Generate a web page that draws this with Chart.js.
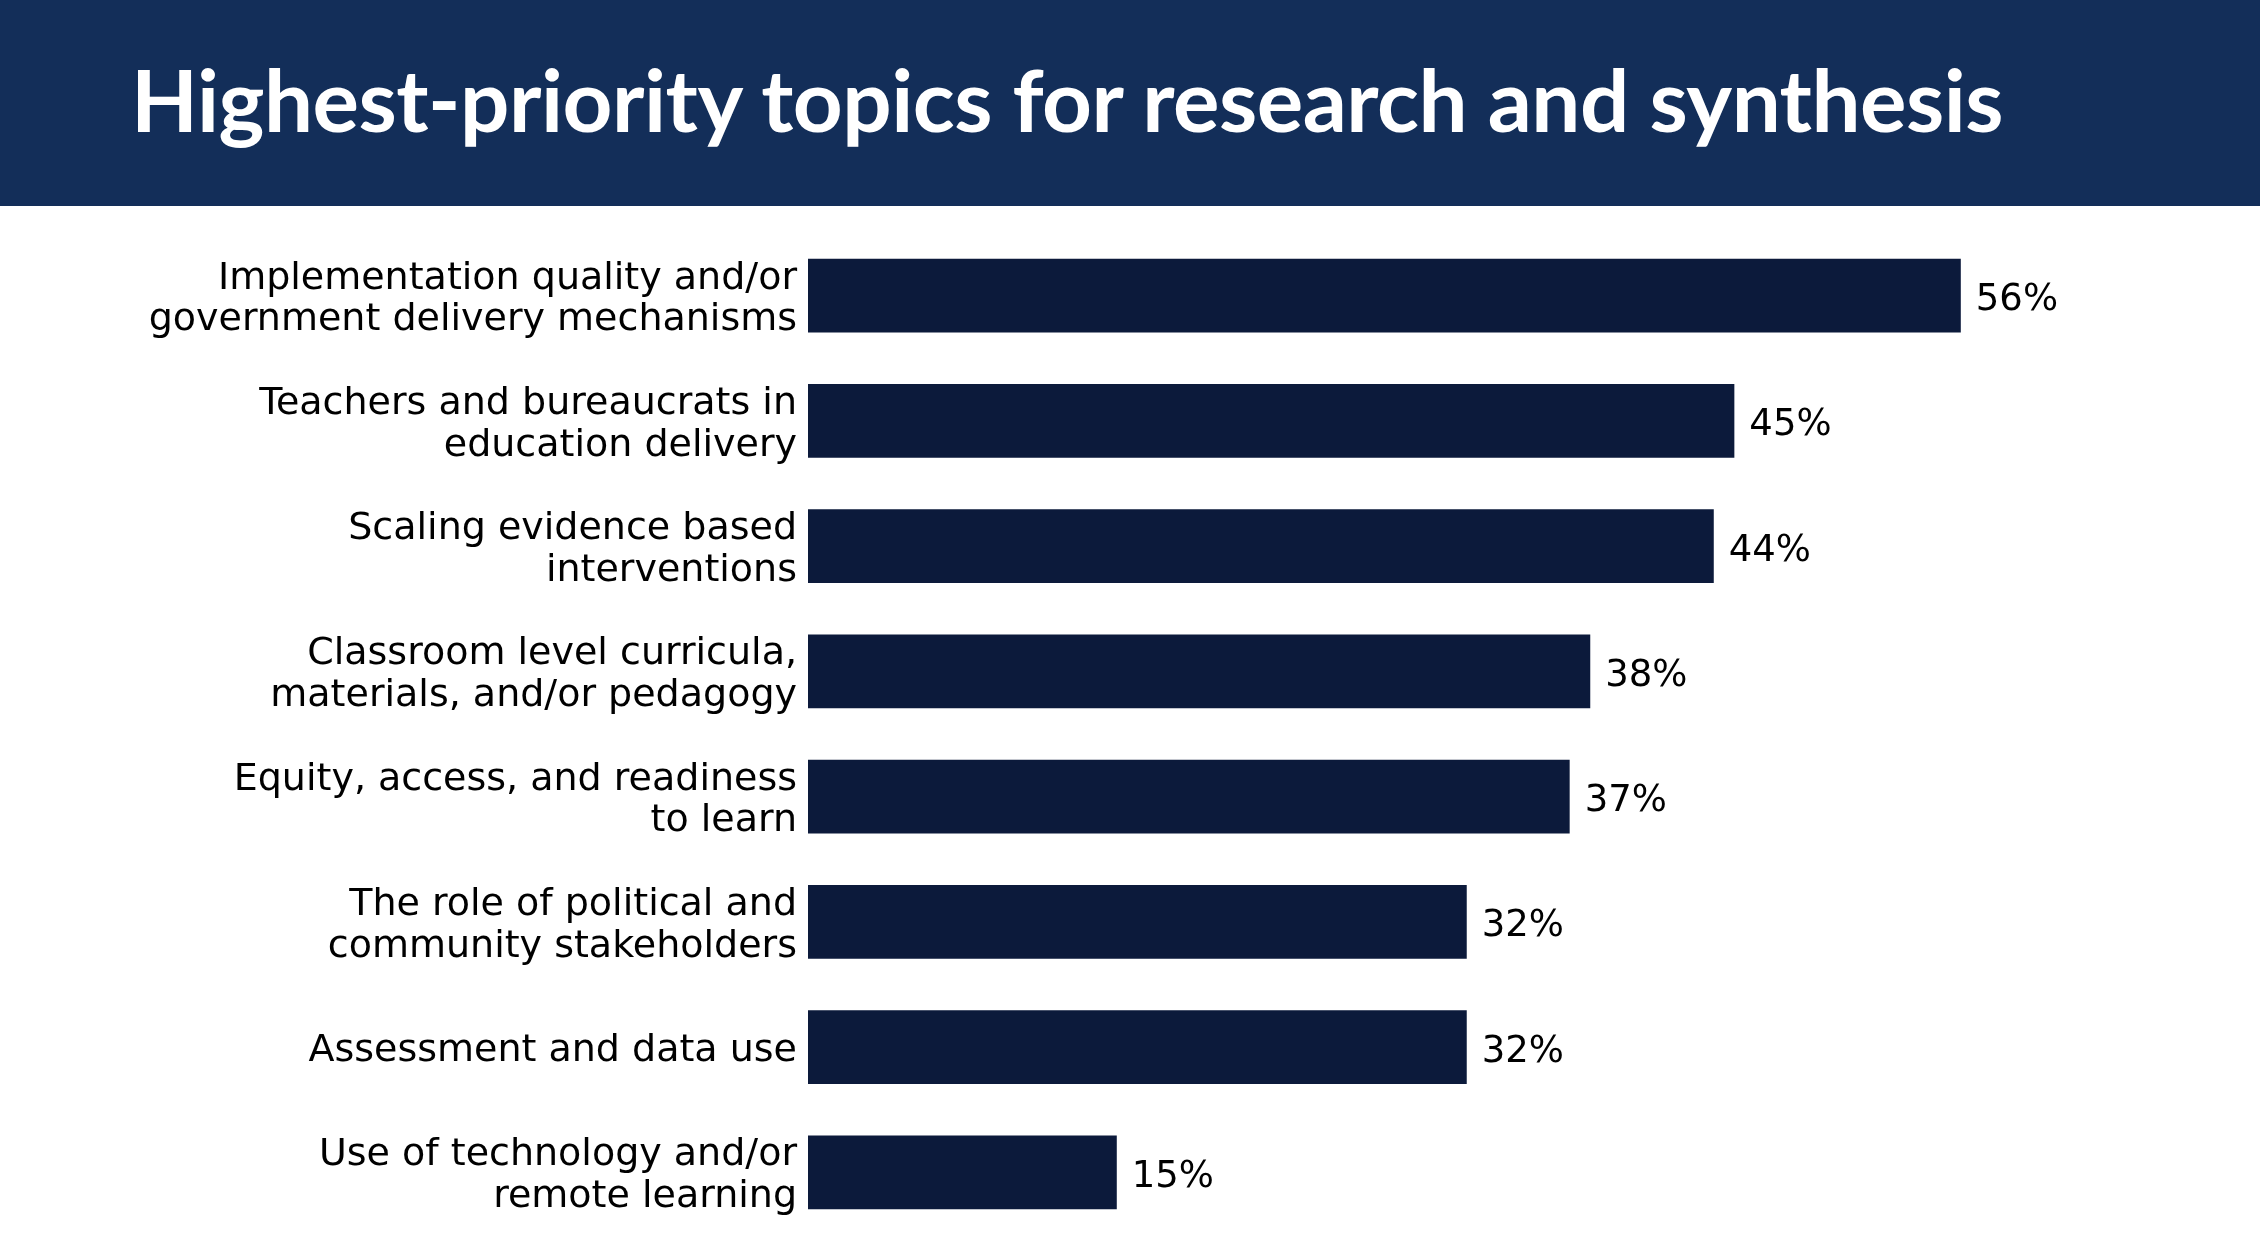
<!DOCTYPE html>
<html>
<head>
<meta charset="utf-8">
<title>Highest-priority topics for research and synthesis</title>
<script src="https://cdn.jsdelivr.net/npm/chart.js@4.4.1/dist/chart.umd.min.js"></script>
<style>
  html, body { margin: 0; padding: 0; background: #fff; }
  body { width: 2260px; height: 1247px; position: relative; overflow: hidden; }
  .header {
    position: absolute; left: 0; top: 0; width: 2260px; height: 206px;
    background: #132e59;
  }
  .header h1 {
    position: absolute; left: 131px; top: 47px; margin: 0;
    font-family: Lato, "Open Sans", sans-serif; font-weight: 700;
    font-size: 87px; line-height: 1.2; color: #fff; white-space: nowrap;
    letter-spacing: -0.5px;
  }
  .chart-wrap { position: absolute; left: 0; top: 206px; width: 2260px; height: 1041px; }
</style>
</head>
<body>
<div class="header"><h1>Highest-priority topics for research and synthesis</h1></div>
<div class="chart-wrap"><canvas id="topicsChart"></canvas></div>

<script>
// Survey share choosing each topic (percent)
const topics = [
  ['Implementation quality and/or', 'government delivery mechanisms'],
  ['Teachers and bureaucrats in', 'education delivery'],
  ['Scaling evidence based', 'interventions'],
  ['Classroom level curricula,', 'materials, and/or pedagogy'],
  ['Equity, access, and readiness', 'to learn'],
  ['The role of political and', 'community stakeholders'],
  ['Assessment and data use'],
  ['Use of technology and/or', 'remote learning']
];
const shares = [56, 45, 44, 38, 37, 32, 32, 15];

const BAR_COLOR = '#0c1a3b';
const FONT = '"DejaVu Sans", sans-serif';

// draws "56%" etc. just past the end of each bar
const valueLabels = {
  id: 'valueLabels',
  afterDatasetsDraw(chart){
    const ctx = chart.ctx;
    const meta = chart.getDatasetMeta(0);
    ctx.save();
    ctx.font = '37px ' + FONT;
    ctx.fillStyle = '#000';
    ctx.textAlign = 'left';
    ctx.textBaseline = 'middle';
    meta.data.forEach((bar, i)=>{
      ctx.fillText(shares[i] + '%', bar.x + 15, bar.y + 5);
    });
    ctx.restore();
  }
};

new Chart(document.getElementById('topicsChart'), {
  type: 'bar',
  data: {
    labels: topics,
    datasets: [{
      data: shares,
      backgroundColor: BAR_COLOR,
      borderWidth: 0,
      categoryPercentage: 0.587,
      barPercentage: 1
    }]
  },
  options: {
    indexAxis: 'y',
    responsive: true,
    maintainAspectRatio: false,
    animation: false,
    layout: { padding: { top: 27, bottom: 12, left: 0, right: 11 } },
    plugins: { legend: { display: false }, tooltip: { enabled: false } },
    scales: {
      x: { display: false, min: 0, max: 70 },
      y: {
        grid: { display: false, drawTicks: false },
        border: { display: false },
        ticks: {
          color: '#000',
          padding: 11,
          labelOffset: 4,
          font: { family: FONT, size: 38, lineHeight: 1.1 }
        },
        afterFit(scale){
          scale.width = 808;
          // keep the label halves from shrinking the plot area
          scale.paddingTop = 0;
          scale.paddingBottom = 0;
        }
      }
    }
  },
  plugins: [valueLabels]
});
</script>
</body>
</html>
